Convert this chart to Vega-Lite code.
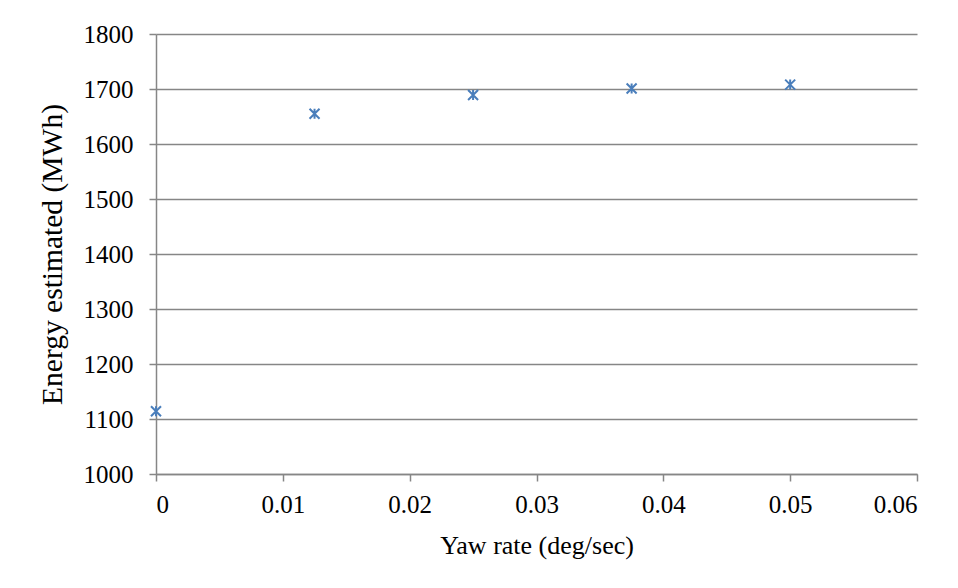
{
  "$schema": "https://vega.github.io/schema/vega-lite/v6.json",
  "autosize": {"type": "none"},
  "width": 761,
  "height": 440,
  "padding": {"left": 156, "top": 34, "right": 41, "bottom": 114},
  "background": "white",
  "config": {
    "view": {"stroke": null},
    "font": "Liberation Serif",
    "axis": {
      "labelFont": "Liberation Serif",
      "titleFont": "Liberation Serif",
      "labelFontSize": 25,
      "titleFontSize": 26,
      "labelColor": "black",
      "titleColor": "black",
      "titleFontWeight": "normal",
      "domainColor": "#868686",
      "tickColor": "#868686",
      "gridColor": "#868686",
      "domainWidth": 1.5,
      "tickWidth": 1.5,
      "gridWidth": 1.5,
      "tickSize": 7
    }
  },
  "data": {
    "values": [
      {"yaw": 0, "energy": 1114},
      {"yaw": 0.0125, "energy": 1655},
      {"yaw": 0.025, "energy": 1689},
      {"yaw": 0.0375, "energy": 1701},
      {"yaw": 0.05, "energy": 1708}
    ]
  },
  "mark": {
    "type": "point",
    "shape": "M-1,-1L1,1M-1,1L1,-1M0,-1L0,1",
    "filled": false,
    "stroke": "#4a7ebb",
    "strokeWidth": 2,
    "size": 100,
    "opacity": 1
  },
  "encoding": {
    "x": {
      "field": "yaw",
      "type": "quantitative",
      "scale": {"domain": [0, 0.06], "nice": false},
      "axis": {
        "title": "Yaw rate (deg/sec)",
        "values": [0, 0.01, 0.02, 0.03, 0.04, 0.05, 0.06],
        "format": ".2~f",
        "grid": false,
        "labelPadding": 11,
        "titlePadding": 15
      }
    },
    "y": {
      "field": "energy",
      "type": "quantitative",
      "scale": {"domain": [1000, 1800], "nice": false, "zero": false},
      "axis": {
        "title": "Energy estimated (MWh)",
        "titleFontSize": 29.5,
        "values": [1000, 1100, 1200, 1300, 1400, 1500, 1600, 1700, 1800],
        "format": "d",
        "grid": true,
        "labelPadding": 16,
        "titlePadding": 16
      }
    }
  }
}
